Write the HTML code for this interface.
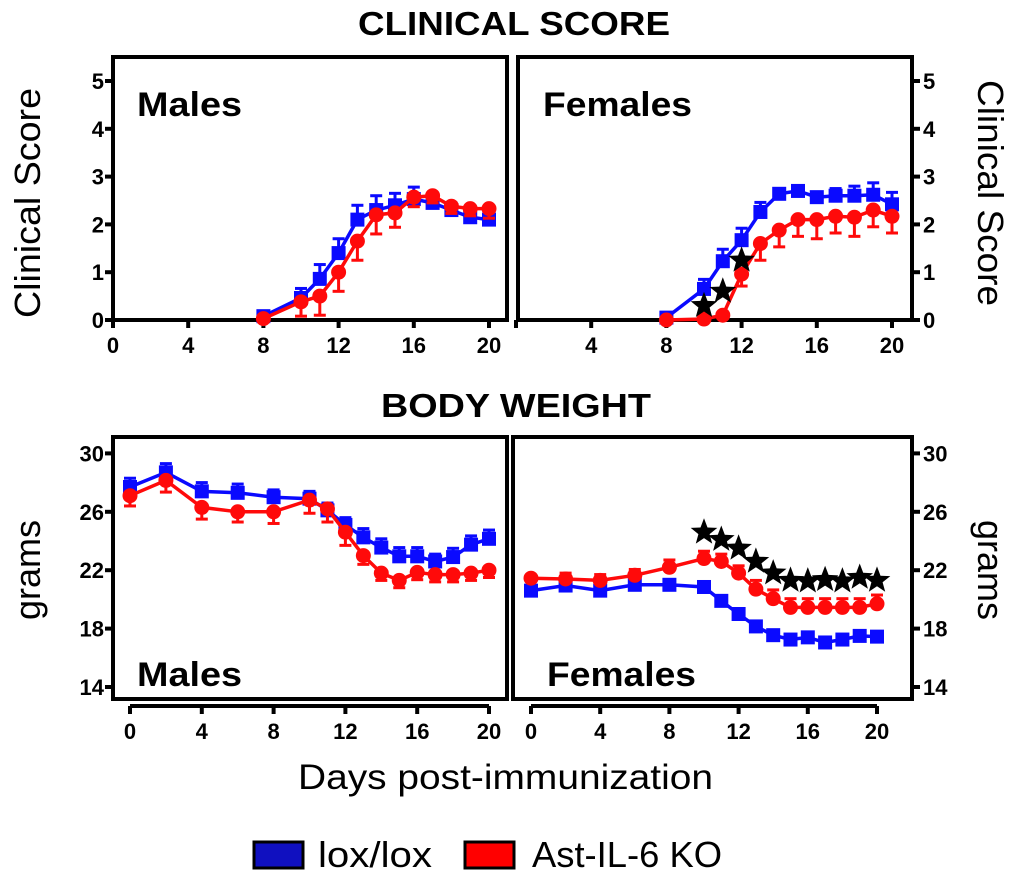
<!DOCTYPE html>
<html><head><meta charset="utf-8"><style>
body{margin:0;background:#fff;}
svg{display:block;font-family:"Liberation Sans",sans-serif;}
</style></head><body>
<svg id="chart" width="1024" height="877" viewBox="0 0 1024 877" xmlns="http://www.w3.org/2000/svg">
<text x="358" y="35" font-size="33" font-weight="bold" textLength="312" lengthAdjust="spacingAndGlyphs">CLINICAL SCORE</text>
<text x="381" y="417" font-size="33" font-weight="bold" textLength="270" lengthAdjust="spacingAndGlyphs">BODY WEIGHT</text>
<text transform="translate(40,203) rotate(-90)" text-anchor="middle" font-size="36" textLength="230" lengthAdjust="spacingAndGlyphs">Clinical Score</text>
<text transform="translate(978,193) rotate(90)" text-anchor="middle" font-size="36" textLength="226" lengthAdjust="spacingAndGlyphs">Clinical Score</text>
<text transform="translate(40,570) rotate(-90)" text-anchor="middle" font-size="36">grams</text>
<text transform="translate(978,570) rotate(90)" text-anchor="middle" font-size="36">grams</text>
<text x="298" y="789" font-size="35" textLength="415" lengthAdjust="spacingAndGlyphs">Days post-immunization</text>
<g>
<rect x="254" y="842" width="49" height="26" fill="#1010c0" stroke="#000" stroke-width="3"/>
<text x="318" y="867" font-size="36" textLength="114" lengthAdjust="spacingAndGlyphs">lox/lox</text>
<rect x="465" y="842" width="49" height="26" fill="#ff0000" stroke="#000" stroke-width="3"/>
<text x="532" y="867" font-size="36" textLength="190" lengthAdjust="spacingAndGlyphs">Ast-IL-6 KO</text>
</g>
<g id="plots"></g>
</svg>
<script>
// ---- data ----
const csDays = [8,10,11,12,13,14,15,16,17,18,19,20];
const csMaleLox = [0.08,0.46,0.86,1.4,2.1,2.3,2.4,2.53,2.45,2.3,2.15,2.1];
const csMaleLoxErr = [0.1,0.2,0.3,0.3,0.3,0.3,0.25,0.25,0.15,0.15,0.1,0.1];
const csMaleKO = [0.03,0.38,0.5,1.0,1.65,2.2,2.24,2.57,2.6,2.38,2.33,2.33];
const csMaleKOErr = [0.05,0.3,0.4,0.4,0.4,0.4,0.3,0.2,0.15,0.15,0.15,0.2];
const csFemLox = [0.05,0.65,1.23,1.67,2.26,2.64,2.7,2.57,2.6,2.6,2.62,2.42];
const csFemLoxErr = [0.05,0.2,0.25,0.25,0.2,0.05,0.05,0.05,0.15,0.2,0.25,0.25];
const csFemKO = [0,0.02,0.1,0.96,1.6,1.88,2.1,2.1,2.17,2.15,2.3,2.17];
const csFemKOErr = [0,0,0,0.25,0.35,0.35,0.35,0.4,0.35,0.4,0.35,0.35];
const csStarDays = [10,11,12];
const csStarVals = [0.3,0.6,1.25];
const bwDays = [0,2,4,6,8,10,11,12,13,14,15,16,17,18,19,20];
const bwMaleLox = [27.7,28.7,27.4,27.3,27.0,26.9,26.1,25.1,24.25,23.55,22.95,22.95,22.6,22.9,23.75,24.15];
const bwMaleLoxErr = [0.6,0.6,0.6,0.6,0.5,0.5,0.5,0.5,0.6,0.6,0.6,0.6,0.5,0.6,0.6,0.6];
const bwMaleKO = [27.1,28.15,26.3,26.0,26.0,26.8,26.2,24.6,23.0,21.8,21.3,21.85,21.7,21.7,21.8,22.0];
const bwMaleKOErr = [0.7,0.8,0.8,0.7,0.8,0.9,0.9,0.9,0.6,0.5,0.5,0.5,0.5,0.5,0.5,0.5];
const bwFemLox = [20.6,20.95,20.6,21.0,21.0,20.85,19.9,19.0,18.15,17.55,17.25,17.4,17.05,17.25,17.5,17.45];
const bwFemLoxErr = [0,0,0,0,0,0,0,0,0,0,0,0,0,0,0,0];
const bwFemKO = [21.45,21.4,21.3,21.65,22.2,22.8,22.6,21.8,20.7,20.05,19.45,19.45,19.45,19.45,19.45,19.7];
const bwFemKOErr = [0,0.4,0.4,0.4,0.5,0.5,0.5,0.5,0.6,0.6,0.6,0.6,0.6,0.6,0.6,0.6];
const bwStarDays = [10,11,12,13,14,15,16,17,18,19,20];
const bwStarVals = [24.6,24.1,23.5,22.6,21.8,21.3,21.25,21.35,21.25,21.5,21.3];
const csTicksY = [0,1,2,3,4,5];
const bwTicksY = [14,18,22,26,30];
const xTicks = [0,4,8,12,16,20];

const NS = 'http://www.w3.org/2000/svg';
const root = document.getElementById('plots');
function mk(tag, attrs, parent){
  const e = document.createElementNS(NS, tag);
  for (const k in attrs) e.setAttribute(k, attrs[k]);
  (parent||root).appendChild(e); return e;
}
function starPath(cx, cy, r){
  let d='';
  for(let i=0;i<10;i++){
    const a=-Math.PI/2+i*Math.PI/5, rr=i%2?r*0.42:r;
    d+=(i?'L':'M')+(cx+rr*Math.cos(a)).toFixed(1)+','+(cy+rr*Math.sin(a)).toFixed(1);
  }
  return d+'Z';
}
function panel(o){
  const g = mk('g', {});
  
  
  const X = d => o.x0 + d*o.xs;
  const Y = v => o.y0 - (v - o.vmin)*o.ys;
  const fr = mk('rect', {x:o.fx, y:o.fy, width:o.fw, height:o.fh, fill:'none', stroke:'#000', 'stroke-width':4}, g);
  
  
  const xaxisY = o.xaxisY;
  if (xaxisY !== o.fy+o.fh) mk('line',{x1:X(0),x2:X(20),y1:xaxisY,y2:xaxisY,stroke:'#000','stroke-width':4},g);
  xTicks.forEach(t=>{
    mk('line',{x1:X(t),x2:X(t),y1:xaxisY,y2:xaxisY+8,stroke:'#000','stroke-width':4},g);
    if (o.skipZero && t===0) return;
    const tx = mk('text',{x:X(t),y:xaxisY+33,'text-anchor':'middle','font-size':22,'font-weight':'bold'},g);
    tx.textContent = t;
    
    
  });
  o.yt.forEach(t=>{
    const yy = Y(t);
    if (o.right){
      mk('line',{x1:o.fx+o.fw,x2:o.fx+o.fw+8,y1:yy,y2:yy,stroke:'#000','stroke-width':4},g);
      const tx = mk('text',{x:o.fx+o.fw+11,y:yy+8,'font-size':22,'font-weight':'bold'},g);
      tx.textContent = t;
      
      
    } else {
      mk('line',{x1:o.fx-8,x2:o.fx,y1:yy,y2:yy,stroke:'#000','stroke-width':4},g);
      const tx = mk('text',{x:o.fx-9,y:yy+8,'text-anchor':'end','font-size':22,'font-weight':'bold'},g);
      tx.textContent = t;
      
      
    }
  });
  const lbl = mk('text',{x:o.lx,y:o.ly,'font-size':34,'font-weight':'bold',textLength:o.lw,lengthAdjust:'spacingAndGlyphs'},g);
  lbl.textContent = o.label;
  
  
  o.series.forEach(s=>{
    const sg = mk('g',{},g);
    
    
    s.vals.forEach((v,i)=>{
      const e = s.err[i]; if(!e) return;
      const x = X(o.days[i]), y1 = Y(v), y2 = Y(v + s.dir*e);
      mk('line',{x1:x,x2:x,y1:y1,y2:y2,stroke:s.color,'stroke-width':3},sg);
      mk('line',{x1:x-6,x2:x+6,y1:y2,y2:y2,stroke:s.color,'stroke-width':3},sg);
    });
    const pts = s.vals.map((v,i)=>X(o.days[i]).toFixed(1)+','+Y(v).toFixed(1)).join(' ');
    mk('polyline',{points:pts,fill:'none',stroke:s.color,'stroke-width':3.5},sg);
    s.vals.forEach((v,i)=>{
      const x = X(o.days[i]), y = Y(v);
      let m;
      if (s.shape==='sq') m = mk('rect',{x:x-7,y:y-7,width:14,height:14,fill:s.color},sg);
      else m = mk('circle',{cx:x,cy:y,r:7.5,fill:s.color},sg);
      
      
    });
  });
  if (o.stars){
    o.stars.d.forEach((d,i)=>{
      const st = mk('path',{d:starPath(X(d),Y(o.stars.v[i]),14),fill:'#000'},g);
      
      
    });
  }
}
const BLUE='#0a0aff', RED='#ff0a0a';
panel({name:'clinical-males-panel',fx:113,fy:57,fw:394,fh:263,x0:113,xs:18.8,y0:320,vmin:0,ys:47.8,xaxisY:320,
  yt:csTicksY,right:false,label:'Males',lx:137,ly:116,lw:105,days:csDays,
  series:[{name:'males-lox-series',vals:csMaleLox,err:csMaleLoxErr,dir:1,color:BLUE,shape:'sq'},
          {name:'males-ko-series',vals:csMaleKO,err:csMaleKOErr,dir:-1,color:RED,shape:'c'}]});
panel({name:'clinical-females-panel',fx:518,fy:57,fw:394,fh:263,x0:516,xs:18.8,y0:320,vmin:0,ys:47.8,xaxisY:320,skipZero:true,
  yt:csTicksY,right:true,label:'Females',lx:543,ly:116,lw:149,days:csDays,
  series:[{name:'females-lox-series',vals:csFemLox,err:csFemLoxErr,dir:1,color:BLUE,shape:'sq'},
          {name:'females-ko-series',vals:csFemKO,err:csFemKOErr,dir:-1,color:RED,shape:'c'}],
  stars:{d:csStarDays,v:csStarVals}});
panel({name:'weight-males-panel',fx:113,fy:437,fw:394,fh:262,x0:130,xs:17.95,y0:687,vmin:14,ys:14.6,xaxisY:706,
  yt:bwTicksY,right:false,label:'Males',lx:137,ly:686,lw:105,days:bwDays,
  series:[{name:'males-weight-lox-series',vals:bwMaleLox,err:bwMaleLoxErr,dir:1,color:BLUE,shape:'sq'},
          {name:'males-weight-ko-series',vals:bwMaleKO,err:bwMaleKOErr,dir:-1,color:RED,shape:'c'}]});
panel({name:'weight-females-panel',fx:513,fy:437,fw:399,fh:262,x0:531,xs:17.3,y0:687,vmin:14,ys:14.6,xaxisY:706,
  yt:bwTicksY,right:true,label:'Females',lx:547,ly:686,lw:149,days:bwDays,
  series:[{name:'females-weight-lox-series',vals:bwFemLox,err:bwFemLoxErr,dir:1,color:BLUE,shape:'sq'},
          {name:'females-weight-ko-series',vals:bwFemKO,err:bwFemKOErr,dir:1,color:RED,shape:'c'}],
  stars:{d:bwStarDays,v:bwStarVals}});
</script>
</body></html>
